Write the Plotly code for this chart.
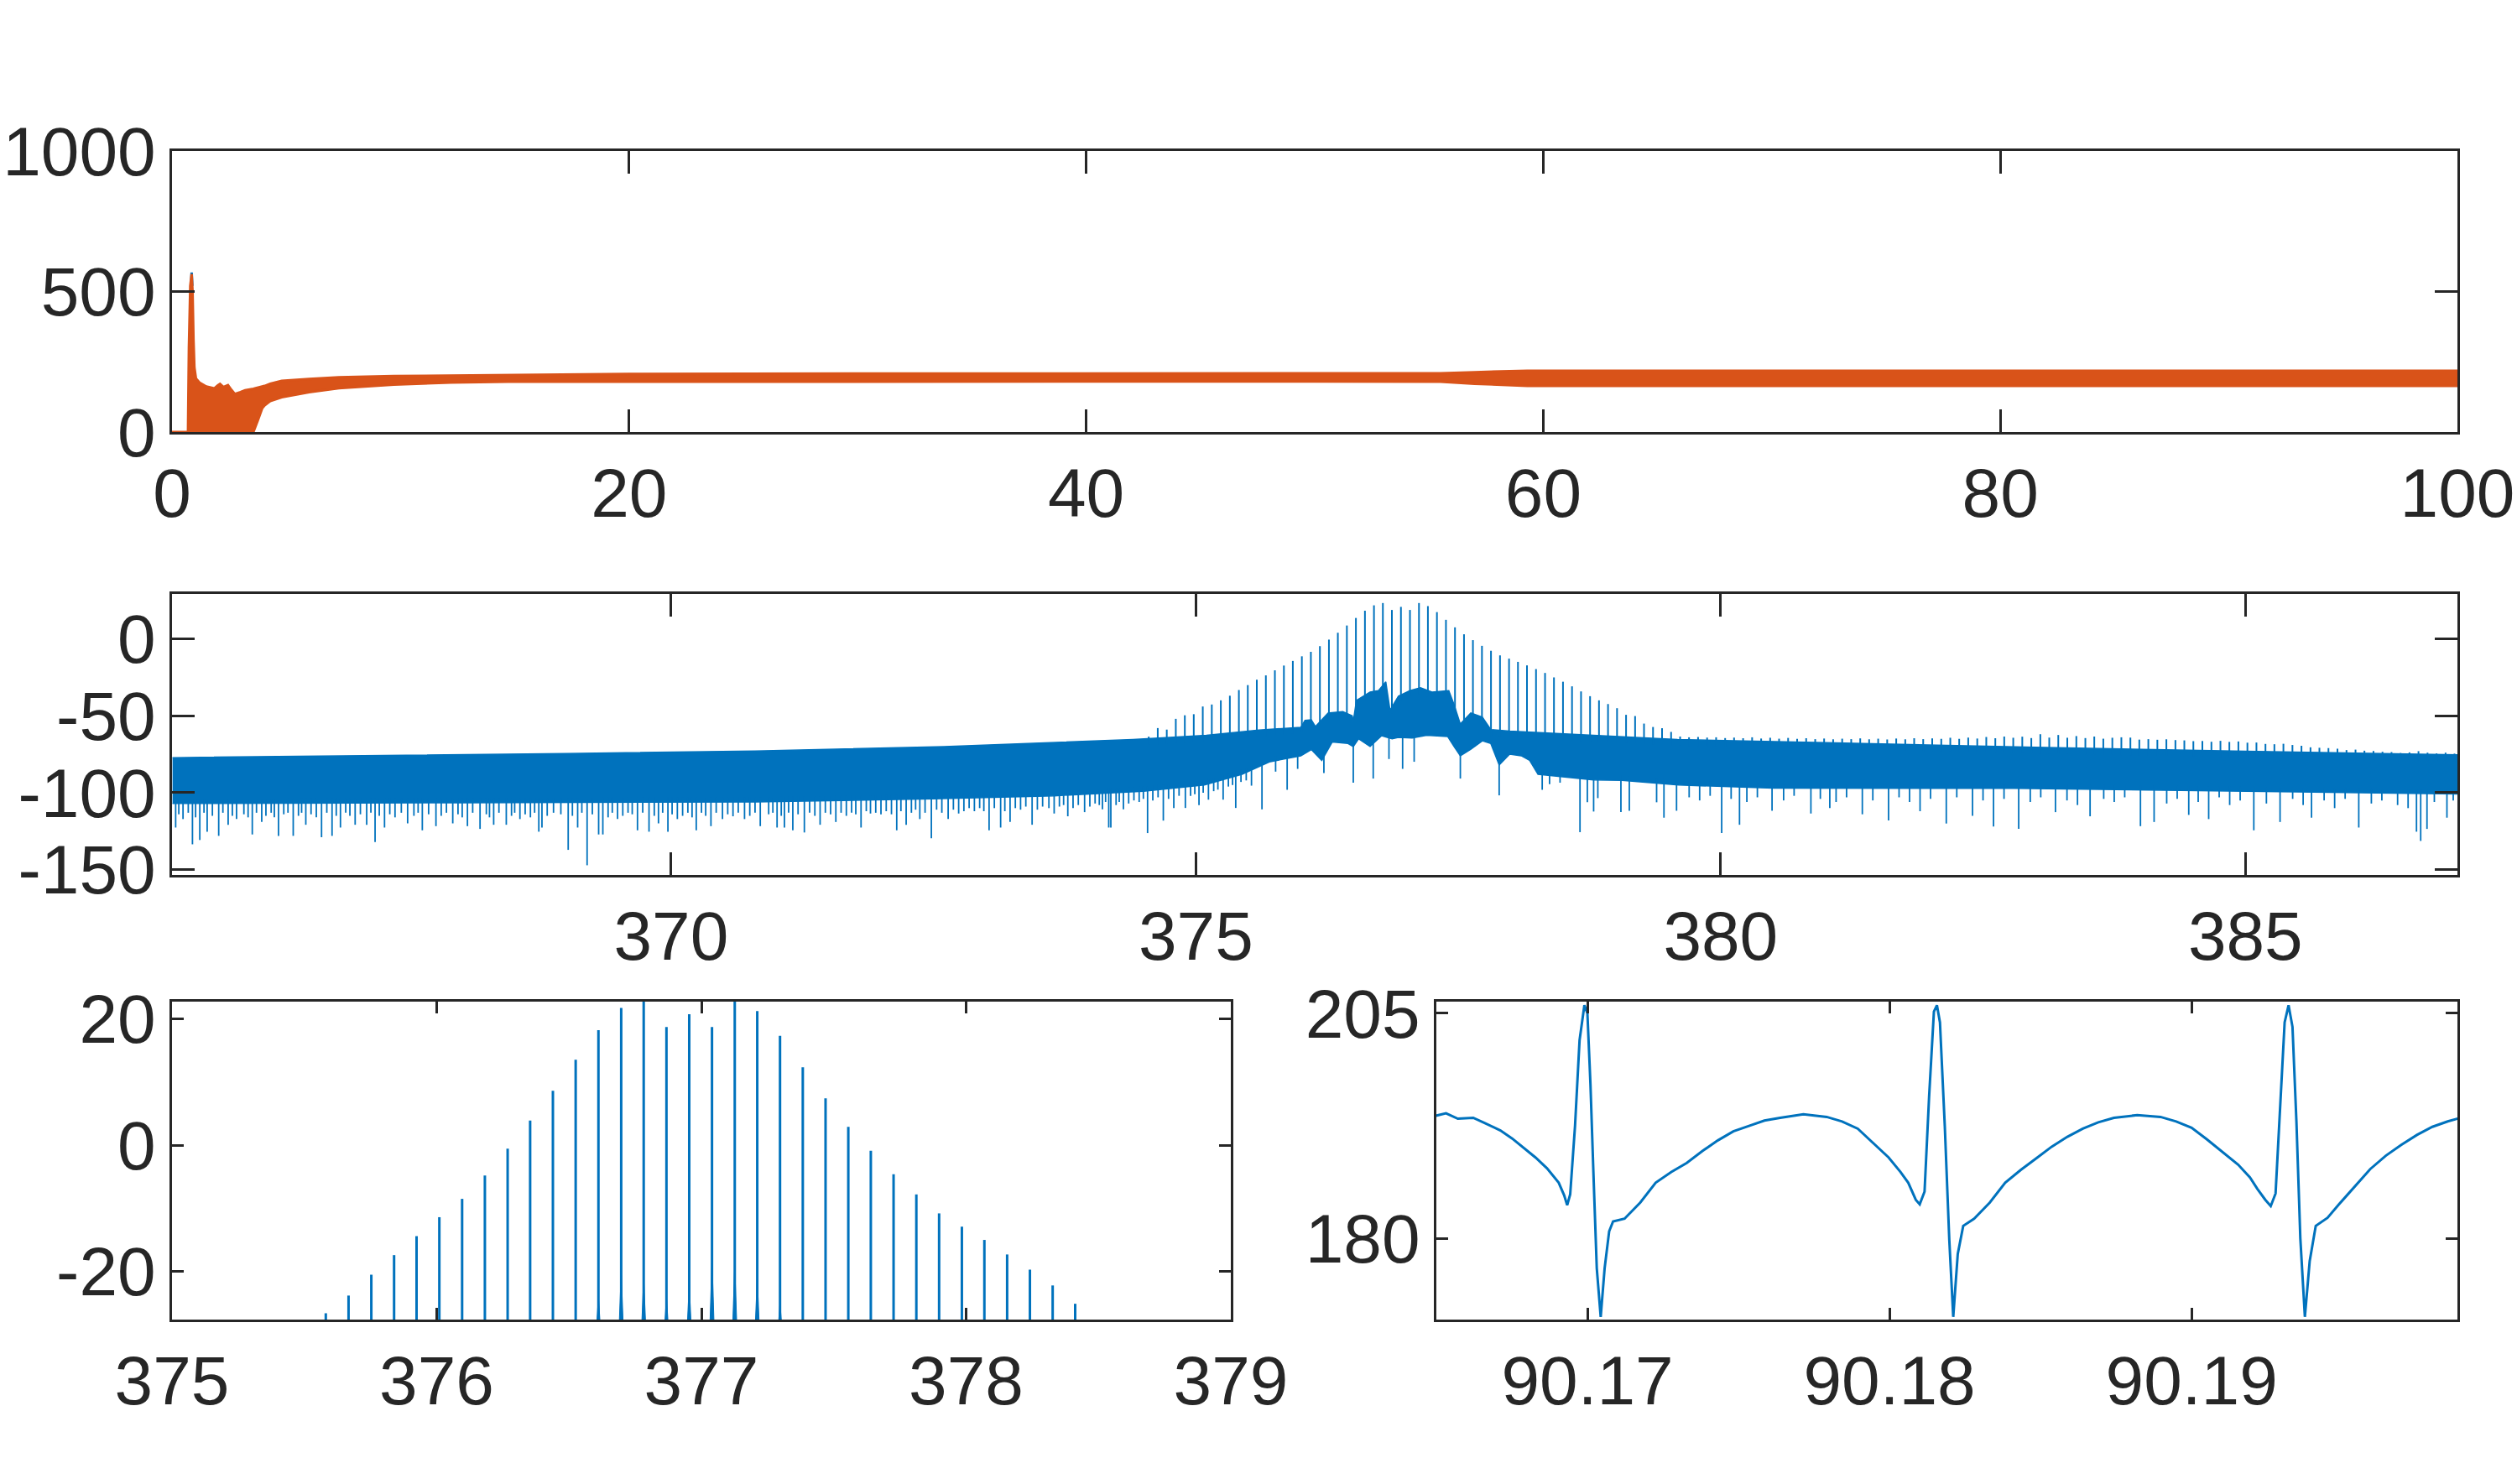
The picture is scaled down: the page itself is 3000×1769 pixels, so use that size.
import numpy as np
import plotly.graph_objects as go

BLUE = "#0072BD"
ORANGE = "#D95319"
AX = "#262626"
FONT = "Liberation Sans, Arial, Helvetica, sans-serif"

# ---------------- Panel 1 : time trace envelope ----------------
p1_t = [0, 0.70, 0.74, 0.80, 0.86, 0.90, 0.94, 0.98, 1.05, 1.2, 1.5, 1.85, 2.0, 2.1, 2.25, 2.45,
        2.6, 2.75, 3.0, 3.2, 3.56, 3.75, 3.95, 4.05, 4.3, 4.8, 6.0, 7.3, 9.7, 12.2, 14.7, 20,
        30, 40, 50, 55.5, 57, 59.3, 70, 80, 90, 100]
p1_upper = [0, 0, 300, 520, 562, 500, 330, 230, 190, 176, 162, 155, 166, 171, 160, 167,
            150, 135, 142, 149, 154, 157, 161, 164, 172, 182, 189, 195, 199, 201, 204, 207,
            208, 208, 208, 209, 213, 218, 218, 218, 218, 218]
p1_lower = [0, 0, 0, 0, 0, 0, 0, 0, 0, 0, 0, 0, 0, 0, 0, 0,
            0, 0, 0, 0, 0, 40, 85, 95, 110, 124, 142, 156, 169, 176, 179, 180,
            180, 180, 180, 179, 172, 164, 164, 164, 164, 164]
p1_tip_t = [0.83, 0.86, 0.89]
p1_tip_v = [520, 568, 520]

# ---------------- Panel 2 : optical spectrum ----------------
floor_top_x = [365.25, 367.0, 369.0, 370.8, 372.6, 374.4, 375.1, 375.6, 376.0, 376.04, 376.10,
               376.14, 376.26, 376.40, 376.49, 376.50, 376.53, 376.66, 376.74, 376.81, 376.84,
               376.85, 376.93, 377.04, 377.14, 377.25, 377.41, 377.46, 377.52, 377.62, 377.73,
               377.81, 377.99, 378.26, 378.79, 379.59, 381.0, 383.0, 385.0, 387.03]
floor_top_y = [-77.2, -76.0, -74.5, -72.9, -70.0, -65.4, -62.7, -59.3, -57.5, -53.0, -52.7,
               -57.0, -48.2, -47.3, -50.0, -53.6, -40.0, -34.6, -33.7, -28.0, -44.0,
               -46.4, -37.3, -33.7, -31.8, -34.6, -33.7, -42.7, -55.4, -48.2, -50.9,
               -59.0, -60.0, -60.9, -62.7, -65.4, -67.5, -70.5, -73.0, -75.4]
floor_bot_x = [365.25, 368.0, 370.8, 372.5, 373.65, 374.5, 375.08, 375.44, 375.7, 376.0, 376.1,
               376.2, 376.3, 376.45, 376.5, 376.55, 376.66, 376.77, 376.87, 376.93, 377.06,
               377.2, 377.4, 377.46, 377.52, 377.62, 377.73, 377.81, 377.89, 377.99, 378.1,
               378.18, 378.26, 378.53, 378.79, 379.06, 379.33, 379.6, 380.5, 382.8, 387.03]
floor_bot_y = [-107, -106.5, -106, -104, -102, -99, -95, -88, -80, -76, -72,
               -79, -67, -68, -70, -65, -70, -63, -65, -64, -64.5,
               -62.7, -63.5, -70, -76, -71.8, -66.3, -68, -82, -75, -76,
               -79, -88, -90, -91.7, -92, -93.5, -95, -97, -97.2, -100.8]

# deep downward spikes of the noise floor
dip_x = [365.28, 365.35, 365.44, 365.51, 365.58, 365.69, 365.78, 365.86, 366.01, 366.10, 366.26,
         366.40, 366.52, 366.67, 366.77, 366.85, 366.99, 367.10, 367.18, 367.27, 367.49, 367.63,
         367.76, 367.92, 368.06, 368.18, 368.31, 368.43, 368.56, 368.74, 368.77, 369.02, 369.11,
         369.20, 369.31, 369.35, 369.49, 369.68, 369.79, 369.88, 369.97, 370.06, 370.24, 370.38,
         370.49, 370.59, 370.70, 370.85, 371.01, 371.08, 371.16, 371.27, 371.42, 371.57, 371.81,
         371.90, 372.15, 372.24, 372.37, 372.48, 372.64, 372.74, 373.03, 373.14, 373.23, 373.44,
         373.65, 373.78, 373.94, 374.11, 374.17, 374.19, 374.31, 374.54, 374.69, 374.79, 374.90,
         375.03, 375.12, 375.26, 375.38, 375.53, 375.63, 375.76, 375.87, 375.97, 376.22, 376.50,
         376.69, 376.84, 376.97, 377.08, 377.52, 377.89, 378.30, 378.37, 378.47, 378.66, 378.73,
         378.79, 378.83, 379.05, 379.13, 379.39, 379.46, 379.58, 380.01, 380.18, 380.49, 380.86,
         381.04, 381.35, 381.60, 381.90, 382.15, 382.40, 382.60, 382.84, 383.19, 383.52, 384.00,
         384.13, 384.46, 384.65, 385.08, 385.33, 385.63, 386.08, 386.63, 386.67, 386.73, 386.92]
dip_y = [-122.6, -117.1, -133.5, -130.7, -125.3, -128.0, -120.8, -117.1, -127.1, -119.0, -128.0,
         -128.0, -120.8, -128.9, -128.0, -122.6, -120.8, -120.8, -132.0, -122.6, -119.9, -124.4,
         -121.7, -119.9, -121.7, -123.5, -120.8, -120.8, -117.1, -125.3, -122.6, -137.1, -122.6,
         -147.1, -127.1, -127.1, -117.1, -124.4, -125.3, -119.9, -125.3, -117.1, -124.4, -121.7,
         -117.1, -115.3, -117.1, -121.7, -122.6, -122.6, -124.4, -125.8, -120.8, -119.0, -122.6,
         -113.5, -124.4, -120.8, -117.1, -129.5, -117.1, -113.5, -124.4, -122.6, -119.0, -120.8,
         -113.5, -115.3, -112.6, -110.8, -122.6, -122.6, -110.8, -126.2, -118.1, -109.9, -109.9,
         -108.1, -104.5, -104.5, -109.9, -95.4, -110.8, -86.3, -98.1, -84.5, -87.2, -93.5,
         -90.8, -78.1, -84.5, -79.9, -90.8, -101.7, -98.1, -94.4, -93.5, -125.6, -106.2,
         -112.2, -103.5, -112.6, -111.7, -106.2, -116.2, -111.7, -126.2, -120.8, -111.7, -113.5,
         -109.9, -114.0, -118.0, -112.0, -120.0, -115.0, -122.0, -123.5, -112.6, -115.3, -121.7,
         -119.0, -114.4, -117.1, -124.4, -119.0, -116.2, -122.6, -125.3, -131.3, -123.5, -116.2]

# shallow ragged dips just below the solid floor
shallow_x = [365.31, 365.40, 365.47, 365.55, 365.63, 365.73, 365.82, 365.93, 365.97, 366.05, 366.14,
             366.19, 366.22, 366.31, 366.35, 366.45, 366.48, 366.57, 366.62, 366.72, 366.81, 366.90,
             366.94, 367.04, 367.14, 367.22, 367.32, 367.37, 367.43, 367.55, 367.59, 367.69, 367.81,
             367.86, 367.97, 368.01, 368.11, 368.24, 368.27, 368.36, 368.48, 368.51, 368.61, 368.66,
             368.70, 368.82, 368.88, 368.95, 369.06, 369.15, 369.25, 369.40, 369.44, 369.54, 369.59,
             369.63, 369.73, 369.84, 369.92, 370.01, 370.11, 370.16, 370.20, 370.29, 370.33, 370.43,
             370.54, 370.64, 370.75, 370.80, 370.93, 370.97, 371.05, 371.12, 371.21, 371.32, 371.37,
             371.47, 371.52, 371.62, 371.67, 371.72, 371.76, 371.86, 371.95, 372.00, 372.05, 372.10,
             372.19, 372.29, 372.33, 372.42, 372.53, 372.58, 372.69, 372.79, 372.84, 372.89, 372.94,
             372.98, 373.08, 373.18, 373.28, 373.33, 373.38, 373.49, 373.54, 373.60, 373.70, 373.74,
             373.83, 373.88, 373.99, 374.04, 374.08, 374.14, 374.24, 374.27, 374.36, 374.41, 374.46,
             374.50, 374.59, 374.64, 374.74, 374.84, 374.95, 374.99, 375.07, 375.17, 375.21, 375.31,
             375.35, 375.43, 375.48, 379.70, 379.80, 379.90, 380.10, 380.25, 380.35, 380.60, 380.70,
             380.95, 381.10, 381.20, 381.45, 381.70, 381.80, 382.00, 382.25, 382.50, 382.70, 382.95,
             383.05, 383.30, 383.40, 383.65, 383.75, 383.85, 384.25, 384.35, 384.55, 384.75, 384.85,
             384.95, 385.20, 385.45, 385.55, 385.75, 385.85, 385.95, 386.20, 386.30, 386.45, 386.55,
             386.80, 386.98]
shallow_y = [-114, -113, -116, -113, -115, -113, -115, -114, -116, -113, -115,
             -113, -116, -114, -113, -115, -113, -114, -116, -113, -115, -113,
             -115, -114, -113, -115, -114, -116, -113, -115, -113, -114, -115,
             -113, -114, -116, -113, -114, -116, -113, -115, -113, -114, -116,
             -113, -115, -113, -114, -115, -113, -114, -116, -113, -115, -113,
             -114, -113, -115, -113, -114, -115, -113, -116, -113, -115, -113,
             -114, -113, -115, -113, -114, -113, -115, -113, -114, -113, -115,
             -113, -114, -113, -115, -113, -114, -112, -113, -114, -112, -114,
             -112, -113, -111, -113, -111, -113, -111, -112, -110, -112, -110,
             -112, -110, -112, -110, -111, -109, -111, -109, -110, -109, -108,
             -110, -108, -109, -107, -108, -106, -108, -106, -107, -105, -106,
             -104, -105, -103, -104, -102, -102, -101, -100, -99, -98, -96,
             -95, -93, -92, -103, -105, -102, -104, -106, -103, -105, -102,
             -104, -106, -103, -105, -103, -106, -104, -103, -105, -104, -106,
             -103, -105, -108, -104, -106, -103, -107, -104, -106, -103, -108,
             -105, -107, -104, -108, -105, -110, -104, -107, -105, -108, -110,
             -106, -105]

comb_x = [374.551, 374.637, 374.723, 374.809, 374.895, 374.980, 375.066, 375.152, 375.238, 375.324,
          375.410, 375.495, 375.581, 375.667, 375.753, 375.839, 375.924, 376.010, 376.096, 376.182,
          376.268, 376.353, 376.439, 376.525, 376.611, 376.697, 376.782, 376.868, 376.954, 377.040,
          377.126, 377.211, 377.297, 377.383, 377.469, 377.555, 377.640, 377.726, 377.812, 377.898,
          377.984, 378.069, 378.155, 378.241, 378.327, 378.412, 378.498, 378.584, 378.670, 378.756,
          378.841, 378.927, 379.013, 379.099, 379.185, 379.270, 379.356, 379.442, 379.528, 379.614,
          379.699, 379.785, 379.871, 379.957, 380.043, 380.128, 380.214, 380.300, 380.386, 380.472,
          380.557, 380.643, 380.729, 380.815, 380.901, 380.986, 381.072, 381.158, 381.244, 381.330,
          381.415, 381.501, 381.587, 381.673, 381.759, 381.844, 381.930, 382.016, 382.102, 382.188,
          382.273, 382.359, 382.445, 382.531, 382.617, 382.702, 382.788, 382.874, 382.960, 383.046,
          383.131, 383.217, 383.303, 383.389, 383.475, 383.560, 383.646, 383.732, 383.818, 383.904,
          383.989, 384.075, 384.161, 384.247, 384.333, 384.418, 384.504, 384.590, 384.676, 384.762,
          384.847, 384.933, 385.019, 385.105, 385.191, 385.276, 385.362, 385.448, 385.534, 385.620,
          385.705, 385.791, 385.877, 385.963, 386.049, 386.134, 386.220, 386.306, 386.392, 386.478,
          386.563, 386.649, 386.735, 386.821, 386.907, 386.992]
comb_db = [-63.6, -58.0, -59.0, -52.0, -49.7, -49.0, -44.0, -42.7, -40.0, -37.0,
           -33.3, -30.1, -26.6, -23.8, -20.5, -17.4, -14.4, -11.4, -8.5, -4.8,
           -0.55, 3.9, 8.6, 13.5, 18.2, 21.7, 23.2, 18.7, 20.7, 18.7,
           23.2, 21.2, 17.3, 12.3, 7.4, 2.9, -0.9, -4.6, -7.8, -10.8,
           -12.9, -15.0, -17.3, -19.7, -22.2, -25.1, -27.9, -30.9, -34.2, -37.3,
           -40.0, -42.4, -45.1, -49.4, -50.2, -55.1, -57.3, -58.1, -60.5, -63.5,
           -64.0, -63.8, -64.2, -64.0, -64.5, -64.2, -64.6, -64.0, -64.8, -64.3,
           -64.9, -64.4, -65.0, -64.6, -65.2, -64.8, -65.3, -64.9, -65.2, -64.7,
           -65.3, -64.9, -65.4, -64.8, -65.3, -64.6, -65.2, -64.7, -65.0, -64.3,
           -65.0, -64.2, -64.8, -63.8, -64.6, -63.5, -64.3, -63.6, -64.5, -62.0,
           -64.2, -62.5, -64.3, -63.2, -64.5, -63.5, -64.9, -64.3, -64.0, -64.2,
           -65.5, -65.2, -65.6, -65.3, -65.8, -66.0, -66.5, -66.4, -66.9, -66.3,
           -67.0, -66.7, -67.5, -67.4, -68.3, -68.5, -68.2, -69.0, -69.5, -70.5,
           -70.8, -71.0, -71.4, -72.3, -72.0, -72.7, -72.9, -73.4, -73.6, -74.2,
           -73.8, -73.0, -74.0, -74.5, -74.0, -74.6]

# widened bases of the strongest comb lines (visible in the bottom-left zoom)
skirt_x = [376.611, 376.697, 376.782, 376.868, 376.954, 377.040, 377.126, 377.211, 377.297]
skirt_top = [-24.0, -20.0, -21.0, -24.0, -22.0, -18.0, -19.0, -21.0, -25.0]

# ---------------- Panel 4 : pulse train zoom ----------------
pulse_t = [90.16494, 90.16532, 90.16571, 90.16622, 90.16661, 90.16712, 90.16751, 90.16789, 90.16828,
           90.16866, 90.16905, 90.16923, 90.16933, 90.16943, 90.16959, 90.16974, 90.16990, 90.17000,
           90.17010, 90.17021, 90.17031, 90.17044, 90.17057, 90.17072, 90.17085, 90.17123, 90.17175,
           90.17226, 90.17278, 90.17329, 90.17380, 90.17432, 90.17483, 90.17535, 90.17586, 90.17638,
           90.17715, 90.17792, 90.17843, 90.17895, 90.17946, 90.17997, 90.18036, 90.18062, 90.18087,
           90.18100, 90.18116, 90.18131, 90.18147, 90.18157, 90.18167, 90.18183, 90.18198, 90.18211,
           90.18226, 90.18244, 90.18280, 90.18332, 90.18383, 90.18434, 90.18486, 90.18537, 90.18589,
           90.18640, 90.18691, 90.18743, 90.18820, 90.18897, 90.18949, 90.19000, 90.19051, 90.19103,
           90.19154, 90.19193, 90.19218, 90.19244, 90.19262, 90.19278, 90.19293, 90.19308, 90.19321,
           90.19334, 90.19347, 90.19360, 90.19375, 90.19391, 90.19411, 90.19450, 90.19488, 90.19540,
           90.19591, 90.19643, 90.19694, 90.19746, 90.19797, 90.19848, 90.19900, 90.19951, 90.19995]
pulse_v = [193.6, 193.9, 193.3, 193.4, 192.8, 192.0, 191.1, 190.1, 189.0,
           187.8, 186.2, 184.8, 183.7, 184.9, 192.5, 202.0, 205.9, 205.0,
           197.2, 186.2, 176.7, 171.3, 176.7, 180.8, 181.9, 182.2, 184.0,
           186.2, 187.4, 188.4, 189.7, 190.9, 191.9, 192.5, 193.1, 193.4,
           193.8, 193.5, 193.0, 192.2, 190.6, 189.0, 187.4, 186.2, 184.3,
           183.8, 185.2, 195.7, 205.2, 205.9, 204.0, 192.5, 179.8, 171.3,
           178.3, 181.4, 182.2, 184.0, 186.2, 187.6, 188.9, 190.2, 191.3,
           192.2, 192.9, 193.4, 193.7, 193.5, 193.0, 192.3, 191.0, 189.6,
           188.2, 186.8, 185.5, 184.3, 183.6, 185.0, 194.0, 204.0, 205.9,
           203.5, 193.0, 180.0, 171.3, 177.5, 181.4, 182.3, 183.8, 185.8,
           187.7, 189.2, 190.4, 191.5, 192.4, 193.0, 193.5, 193.8, 193.6]

# ---------------- ranges / ticks ----------------
p1_xr, p1_yr = [0, 100], [0, 1000]
p2_xr, p2_yr = [365.245, 387.02], [-153.4, 29.1]
p3_xr, p3_yr = [375, 379], [-27.6, 22.7]
p4_xr, p4_yr = [90.165, 90.1988], [171.0, 206.3]

p1_xt = [0, 20, 40, 60, 80, 100]
p1_yt = [0, 500, 1000]
p2_xt = [370, 375, 380, 385]
p2_yt = [-150, -100, -50, 0]
p3_xt = [375, 376, 377, 378, 379]
p3_yt = [-20, 0, 20]
p4_xt = [90.17, 90.18, 90.19]
p4_yt = [180, 205]

fig = go.Figure()

# Panel 1
fig.add_trace(go.Scatter(x=p1_tip_t, y=p1_tip_v, mode="lines", line=dict(color=BLUE, width=3),
                         xaxis="x", yaxis="y", hoverinfo="skip"))
fig.add_trace(go.Scatter(x=p1_t + p1_t[::-1], y=p1_upper + p1_lower[::-1], mode="lines",
                         fill="toself", fillcolor=ORANGE, line=dict(color=ORANGE, width=3),
                         xaxis="x", yaxis="y", hoverinfo="skip"))

# Panel 2 : noise floor band
fig.add_trace(go.Scatter(x=floor_top_x + floor_bot_x[::-1], y=floor_top_y + floor_bot_y[::-1],
                         mode="lines", fill="toself", fillcolor=BLUE,
                         line=dict(color=BLUE, width=1.5), xaxis="x2", yaxis="y2", hoverinfo="skip"))
sx, sy = [], []
for x, y in list(zip(dip_x, dip_y)) + list(zip(shallow_x, shallow_y)):
    base = float(np.interp(x, floor_bot_x, floor_bot_y)) + 3
    sx += [x, x, None]
    sy += [base, y, None]
fig.add_trace(go.Scatter(x=sx, y=sy, mode="lines", line=dict(color=BLUE, width=1.8),
                         xaxis="x2", yaxis="y2", hoverinfo="skip"))
cx, cy = [], []
for x, y in zip(comb_x, comb_db):
    base = float(np.interp(x, floor_top_x, floor_top_y)) - 4
    cx += [x, x, None]
    cy += [base, y, None]
fig.add_trace(go.Scatter(x=cx, y=cy, mode="lines", line=dict(color=BLUE, width=2),
                         xaxis="x2", yaxis="y2", hoverinfo="skip"))

# Panel 3 : zoom on the comb lines
c3x, c3y = [], []
for x, y in zip(comb_x, comb_db):
    if p3_xr[0] <= x <= p3_xr[1]:
        c3x += [x, x, None]
        c3y += [-40, y, None]
fig.add_trace(go.Scatter(x=c3x, y=c3y, mode="lines", line=dict(color=BLUE, width=3),
                         xaxis="x3", yaxis="y3", hoverinfo="skip"))
k3x, k3y = [], []
for x, y in zip(skirt_x, skirt_top):
    k3x += [x - 0.009, x, x + 0.009, None]
    k3y += [-30, y, -30, None]
fig.add_trace(go.Scatter(x=k3x, y=k3y, mode="lines", fill="toself", fillcolor=BLUE,
                         line=dict(color=BLUE, width=1), xaxis="x3", yaxis="y3", hoverinfo="skip"))

# Panel 4 : pulse train
fig.add_trace(go.Scatter(x=pulse_t, y=pulse_v, mode="lines", line=dict(color=BLUE, width=3),
                         xaxis="x4", yaxis="y4", hoverinfo="skip"))

W, H = 3000, 1769


def axis(domain, rng, vals, texts, anchor, ticklen, standoff):
    return dict(domain=domain, range=rng, tickmode="array", tickvals=vals, ticktext=texts,
                ticks="inside", ticklen=ticklen, tickwidth=3, tickcolor=AX,
                showline=True, linewidth=3, linecolor=AX, mirror="ticks",
                showgrid=False, zeroline=False, anchor=anchor, ticklabelstandoff=standoff,
                automargin=False,
                tickfont=dict(family=FONT, size=82, color=AX), fixedrange=True)


def xd(a, b):
    return [a / W, b / W]


def yd(top, bot):
    return [1 - bot / H, 1 - top / H]


XS, YS = 0, 0
fig.update_layout(
    width=W, height=H, margin=dict(l=0, r=0, t=0, b=0, pad=0, autoexpand=False), autosize=False,
    paper_bgcolor="white", plot_bgcolor="white", showlegend=False,
    xaxis=axis(xd(205, 2929), p1_xr, p1_xt, [str(v) for v in p1_xt], "y", 27, XS),
    yaxis=axis(yd(180, 515), p1_yr, p1_yt, [str(v) for v in p1_yt], "x", 27, YS),
    xaxis2=axis(xd(205, 2929), p2_xr, p2_xt, [str(v) for v in p2_xt], "y2", 27, XS),
    yaxis2=axis(yd(708, 1043), p2_yr, p2_yt, [str(v) for v in p2_yt], "x2", 27, YS),
    xaxis3=axis(xd(205, 1467), p3_xr, p3_xt, [str(v) for v in p3_xt], "y3", 14, XS),
    yaxis3=axis(yd(1194, 1573), p3_yr, p3_yt, [str(v) for v in p3_yt], "x3", 14, YS),
    xaxis4=axis(xd(1712, 2929), p4_xr, p4_xt, ["%.2f" % v for v in p4_xt], "y4", 14, XS),
    yaxis4=axis(yd(1194, 1573), p4_yr, p4_yt, [str(v) for v in p4_yt], "x4", 14, YS),
)

fig.write_html("out.html")
